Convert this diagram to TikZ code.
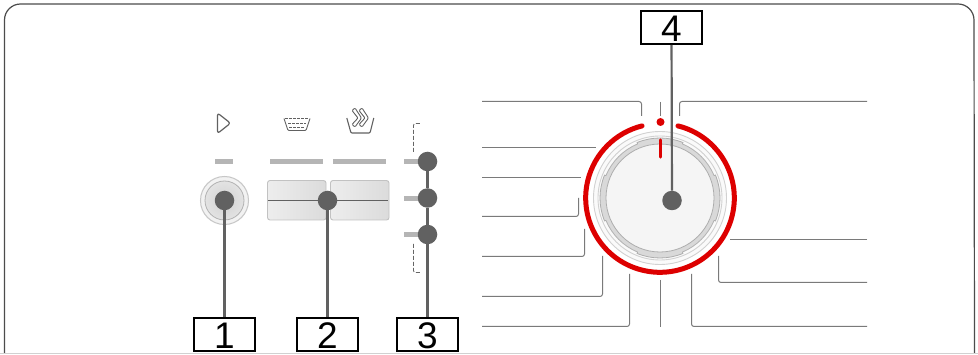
\documentclass[tikz,border=0pt]{standalone}
\usepackage{fontspec}
\setmainfont{Liberation Sans}
\definecolor{dialred}{HTML}{DD0000}
\begin{document}
\begin{tikzpicture}[x=1pt,y=-1pt,line cap=butt,
  leader/.style={draw=black!52,line width=1pt,rounded corners=2.5pt},
  callbox/.style={draw=black,line width=1.7pt,fill=white,minimum width=61pt,minimum height=33pt,inner sep=0pt,font=\fontsize{37}{37}\selectfont,text height=29pt,text depth=0pt},
  hub/.style={circle,fill=black!62,minimum size=19.5pt,inner sep=0pt},
  stem/.style={draw=black!62,line width=2.8pt},
  bar/.style={fill=black!29},
  icon/.style={draw=black!62,line width=1.1pt,line join=round,rounded corners=1pt},
  key/.style={draw=black!24,line width=.9pt,rounded corners=2.5pt,left color=black!7,right color=black!14}]
\useasboundingbox (0,0) rectangle (978,355);
\fill[white] (0,0) rectangle (978,355);
% panel
\draw[black!70,line width=1.2pt] (4.5,353) -- (4.5,20) arc[start angle=180,end angle=270,radius=16] -- (958,4) arc[start angle=270,end angle=360,radius=16] -- (974.5,353);
\draw[black!18,line width=1pt] (0,353.5) -- (978,353.5);
% icons
\draw[icon,rounded corners=2.5pt,line width=1.2pt] (217.5,113) -- (217.5,133.5) -- (230.5,123.2) -- cycle;
\draw[icon,line width=.9pt] (284,118.5) -- (288,130.5) -- (306,130.5) -- (310,118.5);
\draw[icon,line width=.8pt,dash pattern=on 3pt off 1pt] (285,118.8) -- (309,118.8) (288,123.5) -- (306,123.5) (289,127) -- (305,127);
\draw[icon] (346.8,118) -- (351,133) -- (370,133) -- (373.8,118);
\draw[icon,line width=.9pt] (352,110.5) -- (358,118) -- (352,124.5) -- (355,127) -- (361.5,118) -- (355,108) -- cycle;
\draw[icon,line width=.9pt] (359,110.5) -- (365,118) -- (359,124.5) -- (362,127) -- (368.5,118) -- (362,108) -- cycle;
% bars
\fill[bar] (215,159) rectangle (233,164);
\fill[bar] (270,159) rectangle (323,164);
\fill[bar] (333,159) rectangle (386,164);
\fill[bar] (404,159) rectangle (420,164);
\fill[bar] (404,196) rectangle (420,201);
\fill[bar] (404,232) rectangle (420,237);
% bracket
\draw[black!60,line width=.9pt,dash pattern=on 4pt off 2pt,rounded corners=2pt] (413.5,152) -- (413.5,123.5) -- (421.5,123.5);
\draw[black!60,line width=.9pt,dash pattern=on 4pt off 2pt,rounded corners=2pt] (413.5,244) -- (413.5,272.5) -- (421.5,272.5);
% button
\fill[black!5] (224.5,200.5) circle[radius=24.5];
\draw[black!22,line width=1pt] (224.5,200.5) circle[radius=24];
\shade[inner color=black!18,outer color=black!11] (224.5,200.5) circle[radius=19.5];
\draw[black!30,line width=.8pt] (224.5,200.5) circle[radius=19.5];
% keys
\draw[key] (267.5,180.5) rectangle (326,220);
\draw[key] (330.5,180.5) rectangle (389,220);
\coordinate (keyL) at (268,200.5);
\coordinate (keyR) at (388,200.5);
\draw[black!62,line width=1.4pt] (keyL) -- (keyR);
% dial
\coordinate (dc) at (660,198);
\fill[black!2] (dc) circle[radius=66.5];
\draw[black!18,line width=.9pt] (dc) circle[radius=66.5];
\draw[black!18,line width=.9pt] (dc) circle[radius=62];
\fill[black!15] (dc) circle[radius=58.5];
\draw[black!30,line width=.8pt] (dc) circle[radius=58.5];
\foreach \a in {-22.5,67.5,157.5,247.5}{
  \fill[black!15] (dc) -- ++(\a:60) arc[start angle=\a,end angle=\a+45,radius=60] -- cycle;
  \draw[black!32,line width=.8pt] (dc) ++(\a:58.5) -- ++(\a:1.5) arc[start angle=\a,end angle=\a+45,radius=60] -- ++(\a+45:-1.5);
}
\fill[black!4] (dc) circle[radius=54];
\draw[black!32,line width=.8pt] (dc) circle[radius=54];
\draw[dialred,line width=5pt,line cap=round] (dc) ++(-76:74.3) arc[start angle=-76,end angle=256,radius=74.3];
\draw[dialred,line width=3.4pt,line cap=round] (660.5,140) -- (660.5,157);
\fill[dialred] (660.5,122) circle[radius=4];
% leaders
\coordinate (l1a) at (482,101.5); \coordinate (l1b) at (641.5,101.5); \coordinate (l1c) at (641.5,116);
\draw[leader] (l1a) -- (l1b) -- (l1c);
\coordinate (l2a) at (482,147.5); \coordinate (l2b) at (596,147.5);
\draw[leader] (l2a) -- (l2b);
\coordinate (l3a) at (482,177.5); \coordinate (l3b) at (581,177.5);
\draw[leader] (l3a) -- (l3b);
\coordinate (l4a) at (482,216.5); \coordinate (l4b) at (578.5,216.5); \coordinate (l4c) at (578.5,198);
\draw[leader] (l4a) -- (l4b) -- (l4c);
\coordinate (l5a) at (482,256.5); \coordinate (l5b) at (584.5,256.5); \coordinate (l5c) at (584.5,229);
\draw[leader] (l5a) -- (l5b) -- (l5c);
\coordinate (l6a) at (482,296.5); \coordinate (l6b) at (602.5,296.5); \coordinate (l6c) at (602.5,256);
\draw[leader] (l6a) -- (l6b) -- (l6c);
\coordinate (l7a) at (482,326.5); \coordinate (l7b) at (629.5,326.5); \coordinate (l7c) at (629.5,274);
\draw[leader] (l7a) -- (l7b) -- (l7c);
\coordinate (m1) at (660.5,102); \coordinate (m2) at (660.5,116);
\draw[leader] (m1) -- (m2);
\coordinate (m3) at (660.5,280); \coordinate (m4) at (660.5,327);
\draw[leader] (m3) -- (m4);
\coordinate (r1a) at (867,101.5); \coordinate (r1b) at (679.5,101.5); \coordinate (r1c) at (679.5,116);
\draw[leader] (r1a) -- (r1b) -- (r1c);
\coordinate (r2a) at (867,239.5); \coordinate (r2b) at (730,239.5);
\draw[leader] (r2a) -- (r2b);
\coordinate (r3a) at (867,282.5); \coordinate (r3b) at (718.5,282.5); \coordinate (r3c) at (718.5,256);
\draw[leader] (r3a) -- (r3b) -- (r3c);
\coordinate (r4a) at (867,326.5); \coordinate (r4b) at (691.5,326.5); \coordinate (r4c) at (691.5,274);
\draw[leader] (r4a) -- (r4b) -- (r4c);
% callouts
\node[callbox] (b1) at (224.5,334.5) {1};
\node[callbox] (b2) at (327.5,334.5) {2};
\node[callbox] (b3) at (427.5,334.5) {3};
\node[callbox] (b4) at (671.5,27.5) {4};
\node[hub] (h1) at (224.5,200.5) {};
\node[hub] (h2) at (327.5,200.5) {};
\node[hub] (h3a) at (427.5,161.5) {};
\node[hub] (h3b) at (427.5,198) {};
\node[hub] (h3c) at (427.5,234.5) {};
\node[hub] (h4) at (672,200.5) {};
\draw[stem] (h1) -- (b1);
\draw[stem] (h2) -- (b2);
\draw[stem] (h3a) -- (h3b);
\draw[stem] (h3b) -- (h3c);
\draw[stem] (h3c) -- (b3);
\draw[stem,line width=2.2pt] (b4) -- (h4);
\end{tikzpicture}
\end{document}
